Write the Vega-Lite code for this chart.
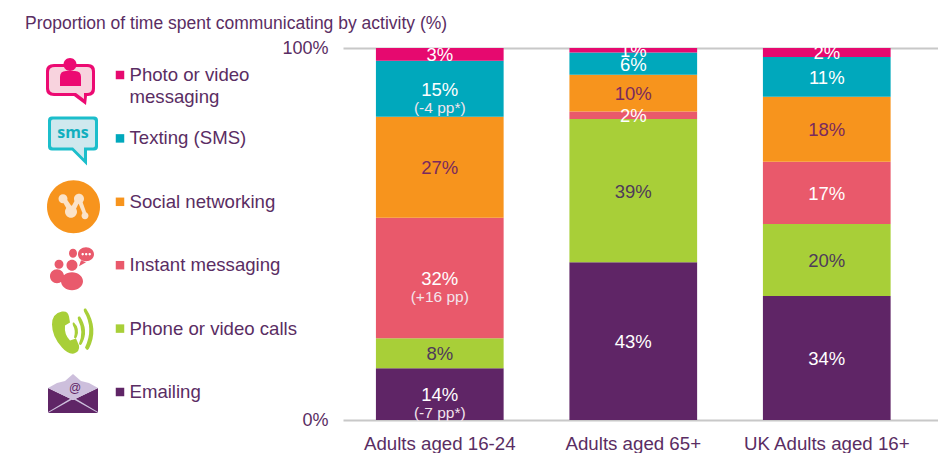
{
"$schema":"https://vega.github.io/schema/vega-lite/v6.json",
"background":"white",
"padding":{"left":0,"right":0,"top":14,"bottom":0},
"bounds":"flush",
"spacing":0,
"title":{"text":"Proportion of time spent communicating by activity (%)","anchor":"start","frame":"group","font":"Liberation Sans","fontSize":17.5,"fontWeight":"normal","color":"#5A2D63","dx":25,"offset":7},
"config":{"view":{"stroke":null},"font":"Liberation Sans"},
"hconcat":[
{
"width":343,"height":372,
"resolve":{"scale":{"color":"independent","shape":"independent"}},
"layer":[
{
"data":{"values":[
{"activity":"Photo or video messaging","part":"photoOuter"},
{"activity":"Photo or video messaging","part":"photoInner"},
{"activity":"Photo or video messaging","part":"photoHead"},
{"activity":"Photo or video messaging","part":"photoBody"},
{"activity":"Texting (SMS)","part":"smsOuter"},
{"activity":"Texting (SMS)","part":"smsInner"},
{"activity":"Social networking","part":"socialDisc"},
{"activity":"Social networking","part":"socialLinkA"},
{"activity":"Social networking","part":"socialLinkB"},
{"activity":"Social networking","part":"socialLinkC"},
{"activity":"Social networking","part":"socialNodes"},
{"activity":"Instant messaging","part":"imPeople"},
{"activity":"Instant messaging","part":"imDots"},
{"activity":"Phone or video calls","part":"phone"},
{"activity":"Emailing","part":"mailBody"},
{"activity":"Emailing","part":"mailFlap"},
{"activity":"Emailing","part":"mailLines"}
]},
"mark":{"type":"point","filled":true,"size":4,"opacity":1,"strokeWidth":0},
"encoding":{
"x":{"datum":71,"type":"quantitative","scale":{"domain":[0,343]},"axis":null},
"y":{"field":"activity","type":"nominal","axis":null,"scale":{"type":"point","padding":0,"domain":["Photo or video messaging","Texting (SMS)","Social networking","Instant messaging","Phone or video calls","Emailing"],"range":[27,344]}},
"shape":{"field":"part","type":"nominal","legend":null,"scale":{
"domain":["photoOuter","photoInner","photoHead","photoBody","smsOuter","smsInner","socialDisc","socialLinkA","socialLinkB","socialLinkC","socialNodes","imPeople","imDots","phone","mailBody","mailFlap","mailLines"],
"range":[
"M-17,-11 H17 Q24,-11 24,-4 V14 Q24,21 17,21 H16 L15,30 L3,21 H-17 Q-25,21 -25,14 V-4 Q-25,-11 -17,-11 Z",
"M-16,-8 H16 Q21,-8 21,-3 V13 Q21,18 16,18 H13 L13,24 L5,18 H-16 Q-22,18 -22,13 V-3 Q-22,-8 -16,-8 Z",
"M-7.5,-10.5 a6.5,6.5 0 1,0 13,0 a6.5,6.5 0 1,0 -13,0 Z",
"M-11,11 V2 Q-11,-4 -5,-4 H4 Q10,-4 10,2 V11 Z",
"M-19,-22 H23 Q27,-22 27,-18 V8 Q27,12 23,12 H16 L16,27 L1,12 H-19 Q-23,12 -23,8 V-18 Q-23,-22 -19,-22 Z",
"M-18,-19 H22 Q24,-19 24,-17 V7 Q24,9 22,9 H13 L13,20 L2,9 H-18 Q-20,9 -20,7 V-17 Q-20,-19 -18,-19 Z",
"M-24,5 a26.5,26.5 0 1,0 53,0 a26.5,26.5 0 1,0 -53,0 Z",
"M-10,-3 L-6,-5 L3,8 L-2,11 Z",
"M6,-5 L10,-3 L3,11 L-2,9 Z",
"M6,-2 L10,-4 L16,13 L13,15 Z",
"M-12.5,-3 a4.5,4.5 0 1,0 9,0 a4.5,4.5 0 1,0 -9,0 Z M3,-3 a5,5 0 1,0 10,0 a5,5 0 1,0 -10,0 Z M-6,10 a6,6 0 1,0 12,0 a6,6 0 1,0 -12,0 Z M10.5,14 a3.5,3.5 0 1,0 7,0 a3.5,3.5 0 1,0 -7,0 Z",
"M-10,16 a11,9 0 1,0 22,0 a11,9 0 1,0 -22,0 Z M-4.5,0 a5.5,5.5 0 1,0 11,0 a5.5,5.5 0 1,0 -11,0 Z M-16.5,-1 a4.5,4.5 0 1,0 9,0 a4.5,4.5 0 1,0 -9,0 Z M-21,11 a7,7 0 1,0 14,0 a7,7 0 1,0 -14,0 Z M7,-11 a8,7 0 1,0 16,0 a8,7 0 1,0 -16,0 Z M10,-5 L8,1 L15,-3 Z M-2,-12 a4,4.5 0 1,0 8,0 a4,4.5 0 1,0 -8,0 Z",
"M10.5,-11 a1.2,1.2 0 1,0 2.4,0 a1.2,1.2 0 1,0 -2.4,0 Z M14,-11 a1.2,1.2 0 1,0 2.4,0 a1.2,1.2 0 1,0 -2.4,0 Z M17.5,-11 a1.2,1.2 0 1,0 2.4,0 a1.2,1.2 0 1,0 -2.4,0 Z",
"M-9,-17 Q-3,-18 -2,-12 L-1,-6 L-6,-3 Q-7,6 -1,12 L5,10 L8,17 Q9,23 3,25 Q-3,26 -9,19 Q-19,8 -19,-4 Q-19,-15 -9,-17 Z M3,-6 Q9,0 6,8 Q5,11 3,9 Q5,2 2,-3 Q1,-7 3,-6 Z M9,-12 Q18,2 11,15 Q9,18 8,15 Q13,3 7,-9 Q6,-13 9,-12 Z M15,-20 Q28,0 18,20 Q16,23 14,19 Q23,0 13,-17 Q12,-21 15,-20 Z",
"M-23,-4 L2,8 L27,-4 V21 H-23 Z",
"M-23,-4 L-14,-9 L-6,-11 L2,-18 L10,-11 L18,-9 L27,-4 L2,8 Z",
"M-23,20 L2,5 L27,20 L27,21 L2,7 L-23,21 Z"
]}},
"color":{"field":"part","type":"nominal","legend":null,"scale":{
"domain":["photoOuter","photoInner","photoHead","photoBody","smsOuter","smsInner","socialDisc","socialLinkA","socialLinkB","socialLinkC","socialNodes","imPeople","imDots","phone","mailBody","mailFlap","mailLines"],
"range":["#EC0A72","#F8D3DE","#EC0A72","#EC0A72","#1CBECB","#CFE8EE","#F7941D","#FBE3C8","#FBE3C8","#FBE3C8","#FBE3C8","#E95A6C","#FFFFFF","#A8CF38","#5F2566","#CDBFDC","#CDBFDC"]}}
}
},
{
"data":{"values":[{"activity":"Texting (SMS)","glyph":"sms"}]},
"mark":{"type":"text","font":"Open Sans","fontWeight":"bold","fontSize":16,"color":"#12AFBE","align":"center","baseline":"middle","dx":2,"dy":-5},
"encoding":{
"x":{"datum":71,"type":"quantitative","scale":{"domain":[0,343]},"axis":null},
"y":{"field":"activity","type":"nominal","axis":null},
"text":{"field":"glyph"}}
},
{
"data":{"values":[{"activity":"Emailing","glyph":"@"}]},
"mark":{"type":"text","font":"Liberation Sans","fontSize":12,"color":"#5F2566","align":"center","baseline":"middle","dx":4,"dy":-4},
"encoding":{
"x":{"datum":71,"type":"quantitative","scale":{"domain":[0,343]},"axis":null},
"y":{"field":"activity","type":"nominal","axis":null},
"text":{"field":"glyph"}}
},
{
"data":{"name":"legendRows","values":[
{"activity":"Photo or video messaging","label":"Photo or video\nmessaging"},
{"activity":"Texting (SMS)","label":"Texting (SMS)"},
{"activity":"Social networking","label":"Social networking"},
{"activity":"Instant messaging","label":"Instant messaging"},
{"activity":"Phone or video calls","label":"Phone or video calls"},
{"activity":"Emailing","label":"Emailing"}
]},
"mark":{"type":"square","size":72,"opacity":1,"filled":true,"strokeWidth":0},
"encoding":{
"x":{"datum":120,"type":"quantitative","scale":{"domain":[0,343]},"axis":null},
"y":{"field":"activity","type":"nominal","axis":null},
"color":{"field":"activity","type":"nominal","legend":null,"scale":{"domain":["Photo or video messaging","Texting (SMS)","Social networking","Instant messaging","Phone or video calls","Emailing"],"range":["#E6096F","#00A8BC","#F7941D","#E9596B","#A8CF38","#5F2566"]}}
}
},
{
"data":{"name":"legendRows"},
"mark":{"type":"text","font":"Liberation Sans","fontSize":18.6,"color":"#5A2D63","align":"left","baseline":"alphabetic","dy":6,"lineBreak":"\n","lineHeight":21.5},
"encoding":{
"x":{"datum":129.5,"type":"quantitative","scale":{"domain":[0,343]},"axis":null},
"y":{"field":"activity","type":"nominal","axis":null},
"text":{"field":"label"}}
}
]
},
{
"width":595,"height":372,
"data":{"values":[
{"group":"Adults aged 16-24","activity":"Emailing","rank":1,"value":13.9,"label":"14%","note":"(-7 pp*)"},
{"group":"Adults aged 16-24","activity":"Phone or video calls","rank":2,"value":8.1,"label":"8%","note":""},
{"group":"Adults aged 16-24","activity":"Instant messaging","rank":3,"value":32.4,"label":"32%","note":"(+16 pp)"},
{"group":"Adults aged 16-24","activity":"Social networking","rank":4,"value":27.1,"label":"27%","note":""},
{"group":"Adults aged 16-24","activity":"Texting (SMS)","rank":5,"value":15.1,"label":"15%","note":"(-4 pp*)"},
{"group":"Adults aged 16-24","activity":"Photo or video messaging","rank":6,"value":3.4,"label":"3%","note":""},
{"group":"Adults aged 65+","activity":"Emailing","rank":1,"value":42.4,"label":"43%","note":""},
{"group":"Adults aged 65+","activity":"Phone or video calls","rank":2,"value":38.5,"label":"39%","note":""},
{"group":"Adults aged 65+","activity":"Instant messaging","rank":3,"value":2.0,"label":"2%","note":""},
{"group":"Adults aged 65+","activity":"Social networking","rank":4,"value":9.9,"label":"10%","note":""},
{"group":"Adults aged 65+","activity":"Texting (SMS)","rank":5,"value":6.0,"label":"6%","note":""},
{"group":"Adults aged 65+","activity":"Photo or video messaging","rank":6,"value":1.2,"label":"1%","note":""},
{"group":"UK Adults aged 16+","activity":"Emailing","rank":1,"value":33.3,"label":"34%","note":""},
{"group":"UK Adults aged 16+","activity":"Phone or video calls","rank":2,"value":19.4,"label":"20%","note":""},
{"group":"UK Adults aged 16+","activity":"Instant messaging","rank":3,"value":16.7,"label":"17%","note":""},
{"group":"UK Adults aged 16+","activity":"Social networking","rank":4,"value":17.5,"label":"18%","note":""},
{"group":"UK Adults aged 16+","activity":"Texting (SMS)","rank":5,"value":10.7,"label":"11%","note":""},
{"group":"UK Adults aged 16+","activity":"Photo or video messaging","rank":6,"value":2.4,"label":"2%","note":""}
]},
"encoding":{
"x":{"field":"group","type":"nominal","sort":null,"title":null,"scale":{"type":"band","paddingInner":0.34,"paddingOuter":0.2075,"align":0.41},
"axis":{"domain":false,"ticks":false,"labelAngle":0,"labelPadding":14,"labelFont":"Liberation Sans","labelFontSize":18.7,"labelColor":"#5A2D63"}},
"detail":{"field":"activity"},
"order":{"field":"rank","type":"quantitative"}
},
"layer":[
{
"mark":{"type":"bar"},
"encoding":{
"y":{"field":"value","type":"quantitative","stack":"zero","title":null,"scale":{"domain":[0,100],"nice":false},
"axis":{"values":[0,100],"domain":false,"ticks":false,"labelExpr":"datum.value + '%'","labelPadding":15,"labelFont":"Liberation Sans","labelFontSize":18,"labelColor":"#5A2D63","grid":true,"gridColor":"#C8C8C8","gridWidth":2}},
"color":{"field":"activity","type":"nominal","legend":null,"scale":{"domain":["Photo or video messaging","Texting (SMS)","Social networking","Instant messaging","Phone or video calls","Emailing"],"range":["#E6096F","#00A8BC","#F7941D","#E9596B","#A8CF38","#5F2566"]}}
}
},
{
"mark":{"type":"text","font":"Liberation Sans","fontSize":18.5,"align":"center","baseline":"middle","dy":1},
"encoding":{
"y":{"field":"value","type":"quantitative","stack":"zero","bandPosition":0.5},
"text":{"field":"label"},
"color":{"condition":[{"test":"datum.activity==='Social networking'","value":"#7A2A5E"},{"test":"datum.activity==='Phone or video calls'","value":"#4E3A5A"}],"value":"#FFFFFF"}
}
},
{
"mark":{"type":"text","font":"Liberation Sans","fontSize":15.5,"align":"center","baseline":"middle","dy":19,"color":"#F3E4EC"},
"encoding":{
"y":{"field":"value","type":"quantitative","stack":"zero","bandPosition":0.5},
"text":{"field":"note"}
}
}
]
}
]
}
